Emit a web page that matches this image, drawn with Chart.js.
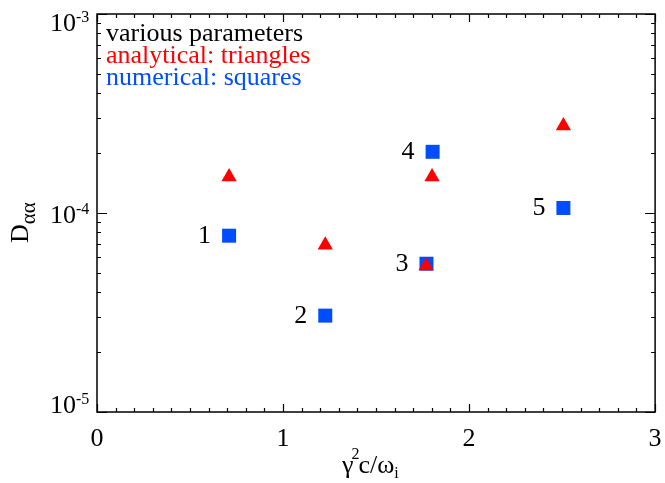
<!DOCTYPE html>
<html>
<head>
<meta charset="utf-8">
<title>D_aa vs gamma^2 c/omega_i</title>
<script src="https://cdn.jsdelivr.net/npm/chart.js@4/dist/chart.umd.min.js"></script>
<style>
  body { margin: 0; background: #fff; }
  #wrap { width: 665px; height: 483px; }
</style>
</head>
<body>
<div id="wrap"><canvas id="dChart" width="665" height="483"></canvas></div>
<script>
// analytical estimates (triangles)
const triX = [0.71, 1.227, 1.769, 1.801, 2.507];
const triY = [1.52e-4, 6.9e-5, 5.42e-5, 1.52e-4, 2.74e-4];
// numerical results (squares), one per parameter set
const sqX = [0.71, 1.227, 1.771, 1.804, 2.507];
const sqY = [7.69e-5, 3.05e-5, 5.56e-5, 2.03e-4, 1.06e-4];
const runLabels = ["1", "2", "3", "4", "5"];

const xTicks = [0, 1, 2, 3];
const yDecades = [-5, -4, -3];
const legendLines = [
  { text: "various parameters", color: "#000000" },
  { text: "analytical: triangles", color: "#ff0000" },
  { text: "numerical: squares", color: "#004dff" },
];

const RED = "#ff0000";
const BLUE = "#004dff";
const FONT = "'Liberation Serif', 'DejaVu Serif', serif";

function pts(xs, ys) {
  return xs.map((x, i) => ({ x: x, y: ys[i] }));
}

// box, inward ticks, tick labels, titles and annotations
const axesPlugin = {
  id: "idlAxes",
  beforeDatasetsDraw(chart) {
    const ctx = chart.ctx;
    const a = chart.chartArea;
    const xs = chart.scales.x;
    const ys = chart.scales.y;
    ctx.save();
    ctx.strokeStyle = "#000";
    ctx.lineWidth = 1.5;
    ctx.strokeRect(a.left, a.top, a.right - a.left, a.bottom - a.top);

    ctx.lineWidth = 1.2;
    ctx.beginPath();
    // x ticks every 0.1, major every 1
    for (let k = 0; k <= 30; k++) {
      const px = Math.round(xs.getPixelForValue(k / 10)) + 0.5;
      const len = k % 10 === 0 ? 8 : 4;
      ctx.moveTo(px, a.bottom); ctx.lineTo(px, a.bottom - len);
      ctx.moveTo(px, a.top); ctx.lineTo(px, a.top + len);
    }
    // y ticks: decades and 2..9 minors
    for (let e = -5; e <= -3; e++) {
      for (let m = 1; m <= 9; m++) {
        if (e === -3 && m > 1) break;
        const py = Math.round(ys.getPixelForValue(m * Math.pow(10, e))) + 0.5;
        const len = m === 1 ? 10 : 4;
        ctx.moveTo(a.left, py); ctx.lineTo(a.left + len, py);
        ctx.moveTo(a.right, py); ctx.lineTo(a.right - len, py);
      }
    }
    ctx.stroke();
    ctx.restore();
  },
  afterDraw(chart) {
    const ctx = chart.ctx;
    const a = chart.chartArea;
    const xs = chart.scales.x;
    const ys = chart.scales.y;
    ctx.save();
    ctx.fillStyle = "#000";
    ctx.textBaseline = "alphabetic";

    // x tick labels
    ctx.font = "26px " + FONT;
    ctx.textAlign = "center";
    xTicks.forEach(v => {
      ctx.fillText(String(v), xs.getPixelForValue(v), a.bottom + 34);
    });

    // y tick labels 10^n
    yDecades.forEach(e => {
      const py = ys.getPixelForValue(Math.pow(10, e));
      let base = py + 10;
      if (base > a.bottom + 1) base = a.bottom + 1;
      if (base - 18 < a.top + 1) base = a.top + 17;
      ctx.font = "26px " + FONT;
      ctx.textAlign = "right";
      ctx.fillText("10", 76, base);
      ctx.font = "16px " + FONT;
      ctx.textAlign = "left";
      ctx.fillText(String(e), 76, base - 9);
    });

    // legend text block
    ctx.font = "26px " + FONT;
    ctx.textAlign = "left";
    legendLines.forEach((l, i) => {
      ctx.fillStyle = l.color;
      ctx.fillText(l.text, a.left + 9, a.top + 27 + i * 22);
    });

    // run numbers left of the squares
    ctx.fillStyle = "#000";
    ctx.textAlign = "right";
    runLabels.forEach((t, i) => {
      const px = xs.getPixelForValue(sqX[i]);
      const py = ys.getPixelForValue(sqY[i]);
      ctx.fillText(t, px - 18, py + 7);
    });

    // x title: gamma^2 c / omega_i
    let x = 342;
    const yb = 473;
    ctx.textAlign = "left";
    ctx.font = "26px " + FONT;
    ctx.fillText("\u03b3", x, yb);
    x += ctx.measureText("\u03b3").width - 2;
    ctx.font = "16px " + FONT;
    ctx.fillText("2", x, yb - 14);
    x += ctx.measureText("2").width - 1;
    ctx.font = "26px " + FONT;
    ctx.fillText("c/\u03c9", x, yb);
    x += ctx.measureText("c/\u03c9").width;
    ctx.font = "16px " + FONT;
    ctx.fillText("i", x, yb + 5);

    // y title: D_aa, rotated
    ctx.translate(28, 243);
    ctx.rotate(-Math.PI / 2);
    ctx.font = "26px " + FONT;
    ctx.fillText("D", 0, 0);
    const dw = ctx.measureText("D").width;
    ctx.font = "21px " + FONT;
    ctx.fillText("\u03b1\u03b1", dw, 7);
    ctx.restore();
  }
};

new Chart(document.getElementById("dChart"), {
  type: "scatter",
  data: {
    datasets: [
      {
        label: "analytical",
        data: pts(triX, triY),
        pointStyle: "triangle",
        pointRadius: 8.8,
        backgroundColor: RED,
        borderWidth: 0,
        order: 0,
      },
      {
        label: "numerical",
        data: pts(sqX, sqY),
        pointStyle: "rect",
        pointRadius: 9.9,
        backgroundColor: BLUE,
        borderWidth: 0,
        order: 1,
      },
    ],
  },
  options: {
    responsive: false,
    animation: false,
    events: [],
    devicePixelRatio: 1,
    layout: { padding: { top: 14, right: 8, left: 0, bottom: 0 } },
    plugins: { legend: { display: false }, tooltip: { enabled: false } },
    scales: {
      x: {
        type: "linear",
        min: 0,
        max: 3,
        grid: { display: false },
        border: { display: false },
        ticks: { display: false },
        afterFit(s) { s.height = 71; },
      },
      y: {
        type: "logarithmic",
        min: 1e-5,
        max: 1e-3,
        grid: { display: false },
        border: { display: false },
        ticks: { display: false },
        afterFit(s) { s.width = 97; },
      },
    },
  },
  plugins: [axesPlugin],
});
</script>
</body>
</html>
